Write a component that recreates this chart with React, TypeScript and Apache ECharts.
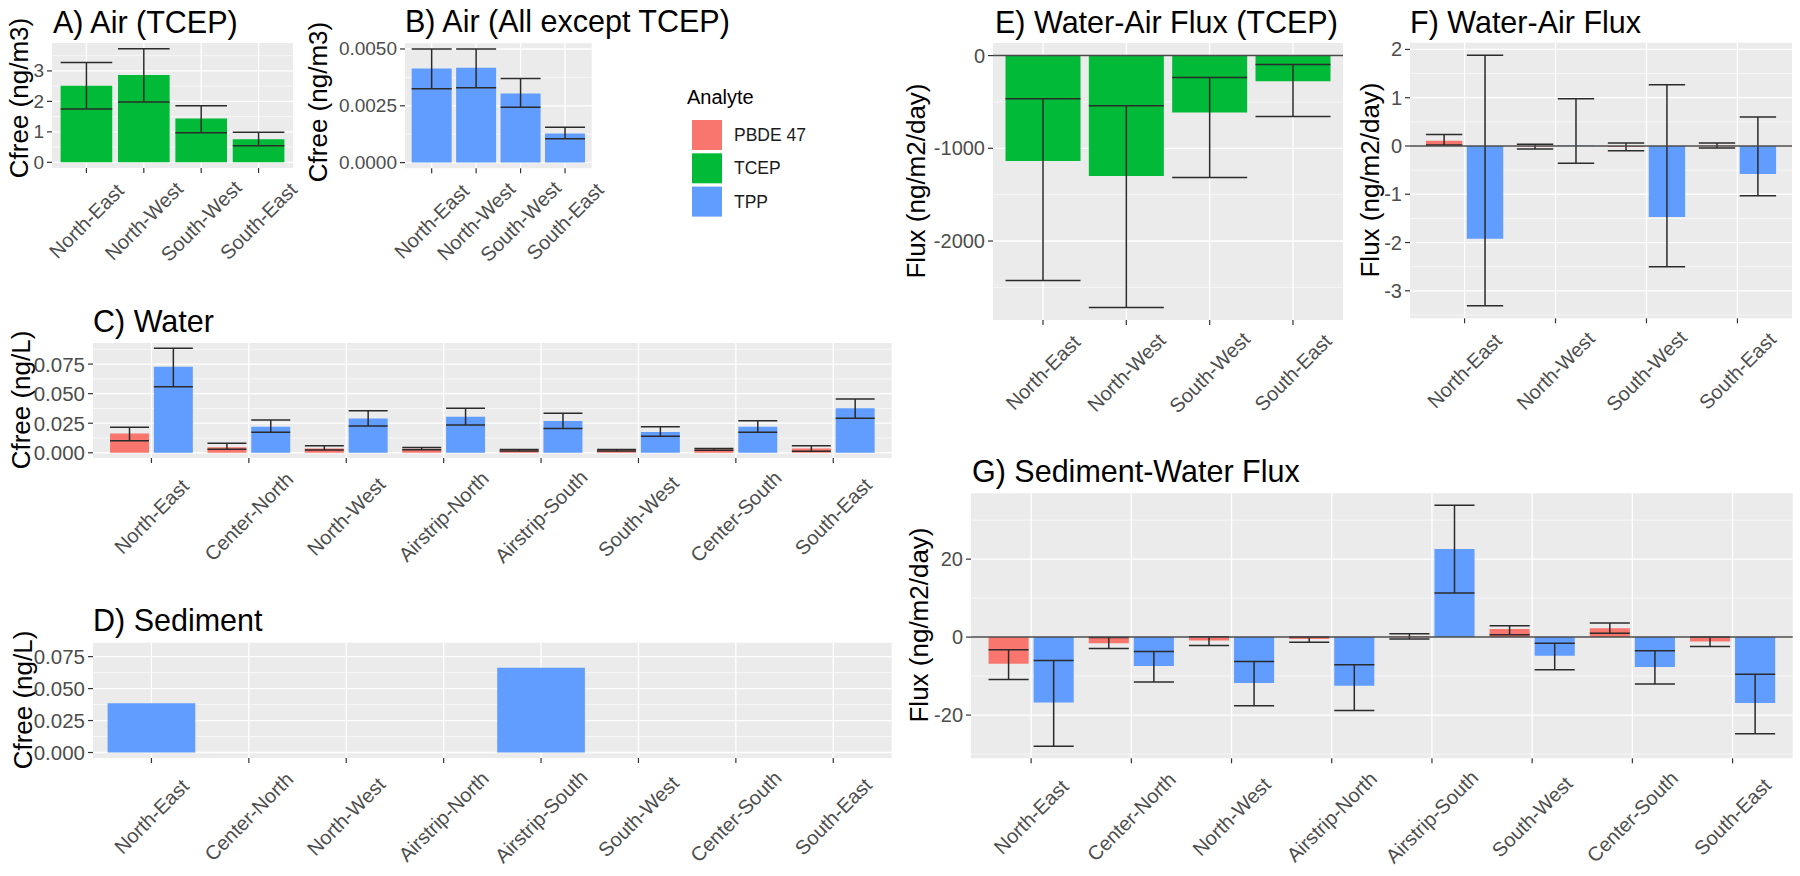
import React, { useEffect, useRef } from 'react';
import * as echarts from 'echarts';

const FONT = '"Liberation Sans", Arial, Helvetica, sans-serif';
const RED = '#F8766D';
const GREEN = '#00BA38';
const BLUE = '#619CFF';

// ---------- categories ----------
const regions4 = ['North-East', 'North-West', 'South-West', 'South-East'];
const regions8 = ['North-East', 'Center-North', 'North-West', 'Airstrip-North', 'Airstrip-South', 'South-West', 'Center-South', 'South-East'];

// ---------- A) Air (TCEP) ----------
const airTcepValue = [2.51, 2.87, 1.44, 0.76];
const airTcepLower = [1.75, 1.98, 0.97, 0.54];
const airTcepUpper = [3.28, 3.73, 1.86, 0.99];
const ticksA = [0, 1, 2, 3];

// ---------- B) Air (All except TCEP) ----------
const airTppValue = [0.00414, 0.00417, 0.00304, 0.00128];
const airTppLower = [0.00325, 0.00329, 0.00244, 0.00105];
const airTppUpper = [0.0050, 0.0050, 0.0037, 0.00156];
const ticksB = [0, 0.0025, 0.005];

// ---------- C) Water ----------
const waterPbdeValue = [0.0164, 0.0046, 0.0037, 0.0035, 0.0022, 0.0022, 0.0029, 0.0037];
const waterPbdeLower = [0.0102, 0.0029, 0.0023, 0.0025, 0.0016, 0.0016, 0.0021, 0.0012];
const waterPbdeUpper = [0.0215, 0.0080, 0.0060, 0.0045, 0.0028, 0.0028, 0.0037, 0.0059];
const waterTppValue = [0.0728, 0.0220, 0.0290, 0.0305, 0.0268, 0.0175, 0.0220, 0.0376];
const waterTppLower = [0.0559, 0.0173, 0.0226, 0.0235, 0.0205, 0.0139, 0.0173, 0.0291];
const waterTppUpper = [0.0884, 0.0277, 0.0356, 0.0376, 0.0335, 0.0220, 0.0271, 0.0455];
const ticksC = [0, 0.025, 0.05, 0.075];

// ---------- D) Sediment ----------
const sedTppValue = [0.0386, null, null, null, 0.0664, null, null, null];
const ticksD = [0, 0.025, 0.05, 0.075];

// ---------- E) Water-Air Flux (TCEP) ----------
const waFluxTcepValue = [-1138, -1300, -614, -278];
const waFluxTcepLower = [-2427, -2716, -1314, -657];
const waFluxTcepUpper = [-466, -542, -235, -97];
const ticksE = [-2000, -1000, 0];

// ---------- F) Water-Air Flux ----------
const waFluxPbdeValue = [0.11, -0.01, -0.02, 0.01];
const waFluxPbdeLower = [0.02, -0.06, -0.10, -0.04];
const waFluxPbdeUpper = [0.24, 0.035, 0.06, 0.06];
const waFluxTppValue = [-1.92, 0.01, -1.47, -0.58];
const waFluxTppLower = [-3.31, -0.36, -2.50, -1.03];
const waFluxTppUpper = [1.88, 0.98, 1.27, 0.60];
const ticksF = [-3, -2, -1, 0, 1, 2];

// ---------- G) Sediment-Water Flux ----------
const swFluxPbdeValue = [-6.85, -1.55, -0.85, -0.5, 0.2, 2.05, 2.3, -1.1];
const swFluxPbdeLower = [-10.9, -2.9, -2.15, -1.3, -0.5, 0.6, 1.0, -2.4];
const swFluxPbdeUpper = [-3.26, -0.1, 0.1, 0.0, 0.85, 2.9, 3.6, 0.0];
const swFluxTppValue = [-16.8, -7.4, -11.8, -12.5, 22.6, -4.8, -7.7, -16.9];
const swFluxTppLower = [-28.0, -11.5, -17.6, -18.8, 11.3, -8.4, -12.0, -24.8];
const swFluxTppUpper = [-6.0, -3.7, -6.25, -7.1, 33.8, -1.55, -3.5, -9.5];
const ticksG = [-20, 0, 20];

const analytes = ['PBDE 47', 'TCEP', 'TPP'];

type S = {
  name: string; color: string; values: (number | null)[];
  lower?: number[]; upper?: number[]; offset: number; width: number;
};
type Panel = {
  title: string; yTitle: string; cats: string[];
  ymin: number; ymax: number; ticks: number[]; fmt: (v: number) => string;
  box: { left: number; top: number; width: number; height: number };
  titlePos: [number, number]; yTitlePos: [number, number];
  labelMargin: number; tickFont: number; zero: boolean; series: S[];
};

const single = (name: string, color: string, values: (number | null)[], lower?: number[], upper?: number[]): S =>
  ({ name, color, values, lower, upper, offset: 0, width: 0.9 });
const dodge = (name: string, color: string, values: number[], lower: number[], upper: number[], side: number): S =>
  ({ name, color, values, lower, upper, offset: 0.225 * side, width: 0.4 });

const panels: Panel[] = [
  {
    title: 'A) Air (TCEP)', yTitle: 'Cfree (ng/m3)', cats: regions4,
    ymin: -0.1865, ymax: 3.9165, ticks: ticksA, fmt: (v) => String(v),
    box: { left: 52, top: 43, width: 241, height: 125 },
    titlePos: [53, 22], yTitlePos: [19, 98], labelMargin: 53, tickFont: 19, zero: false,
    series: [single('TCEP', GREEN, airTcepValue, airTcepLower, airTcepUpper)],
  },
  {
    title: 'B) Air (All except TCEP)', yTitle: 'Cfree (ng/m3)', cats: regions4,
    ymin: -0.00025, ymax: 0.00525, ticks: ticksB, fmt: (v) => v.toFixed(4),
    box: { left: 405, top: 43.3, width: 186.7, height: 125 },
    titlePos: [405, 21], yTitlePos: [318, 102], labelMargin: 53, tickFont: 19, zero: false,
    series: [single('TPP', BLUE, airTppValue, airTppLower, airTppUpper)],
  },
  {
    title: 'C) Water', yTitle: 'Cfree (ng/L)', cats: regions8,
    ymin: -0.00442, ymax: 0.09282, ticks: ticksC, fmt: (v) => v.toFixed(3),
    box: { left: 93, top: 343, width: 798.7, height: 115 },
    titlePos: [93, 321], yTitlePos: [21, 400], labelMargin: 58.5, tickFont: 20.5, zero: false,
    series: [
      dodge('PBDE 47', RED, waterPbdeValue, waterPbdeLower, waterPbdeUpper, -1),
      dodge('TPP', BLUE, waterTppValue, waterTppLower, waterTppUpper, 1),
    ],
  },
  {
    title: 'D) Sediment', yTitle: 'Cfree (ng/L)', cats: regions8,
    ymin: -0.0043, ymax: 0.0859, ticks: ticksD, fmt: (v) => v.toFixed(3),
    box: { left: 93, top: 642.7, width: 798.7, height: 115.3 },
    titlePos: [93, 620], yTitlePos: [23, 700], labelMargin: 58.5, tickFont: 20.5, zero: false,
    series: [single('TPP', BLUE, sedTppValue)],
  },
  {
    title: 'E) Water-Air Flux (TCEP)', yTitle: 'Flux (ng/m2/day)', cats: regions4,
    ymin: -2851.8, ymax: 135.8, ticks: ticksE, fmt: (v) => String(v),
    box: { left: 993, top: 43, width: 350, height: 277 },
    titlePos: [995, 22], yTitlePos: [916, 181], labelMargin: 52.5, tickFont: 20, zero: true,
    series: [single('TCEP', GREEN, waFluxTcepValue, waFluxTcepLower, waFluxTcepUpper)],
  },
  {
    title: 'F) Water-Air Flux', yTitle: 'Flux (ng/m2/day)', cats: regions4,
    ymin: -3.5695, ymax: 2.1395, ticks: ticksF, fmt: (v) => String(v),
    box: { left: 1410, top: 42.7, width: 382, height: 275.6 },
    titlePos: [1410, 22], yTitlePos: [1370, 180], labelMargin: 52.5, tickFont: 20, zero: true,
    series: [
      dodge('PBDE 47', RED, waFluxPbdeValue, waFluxPbdeLower, waFluxPbdeUpper, -1),
      dodge('TPP', BLUE, waFluxTppValue, waFluxTppLower, waFluxTppUpper, 1),
    ],
  },
  {
    title: 'G) Sediment-Water Flux', yTitle: 'Flux (ng/m2/day)', cats: regions8,
    ymin: -31.09, ymax: 36.89, ticks: ticksG, fmt: (v) => String(v),
    box: { left: 971, top: 493.3, width: 821.7, height: 265 },
    titlePos: [972, 471], yTitlePos: [919, 625], labelMargin: 58.5, tickFont: 20, zero: true,
    series: [
      dodge('PBDE 47', RED, swFluxPbdeValue, swFluxPbdeLower, swFluxPbdeUpper, -1),
      dodge('TPP', BLUE, swFluxTppValue, swFluxTppLower, swFluxTppUpper, 1),
    ],
  },
];

function minorBreaks(ticks: number[], min: number, max: number): number[] {
  const step = ticks[1] - ticks[0];
  const out: number[] = [];
  for (let k = -1; k < ticks.length; k++) {
    const m = ticks[0] + step * (k + 0.5);
    if (m > min && m < max) out.push(m);
  }
  return out;
}

const TICK_LEN = 5;
const TICK_STYLE = { stroke: '#333333', lineWidth: 1.2 };

function buildOption() {
  const grid: any[] = [];
  const xAxis: any[] = [];
  const yAxis: any[] = [];
  const series: any[] = [];
  const graphic: any[] = [];

  panels.forEach((p, k) => {
    const n = p.cats.length;
    const idx = p.cats.map((_, i) => i);
    grid.push({
      left: p.box.left, top: p.box.top, width: p.box.width, height: p.box.height,
      show: true, backgroundColor: '#EBEBEB', borderWidth: 0, borderColor: 'transparent',
    });
    xAxis.push({
      type: 'value', gridIndex: k, min: -0.6, max: n - 0.4,
      axisLine: { show: false },
      axisTick: { show: false },
      axisLabel: {
        show: true, customValues: idx, formatter: (v: number) => p.cats[Math.round(v)] ?? '',
        rotate: 45, align: 'center', verticalAlign: 'middle', margin: p.labelMargin,
        color: '#4D4D4D', fontSize: 20, fontFamily: FONT,
      },
      splitLine: { show: false }, minorTick: { show: false }, minorSplitLine: { show: false },
    });
    yAxis.push({
      type: 'value', gridIndex: k, min: p.ymin, max: p.ymax,
      axisLine: { show: false },
      axisTick: { show: false },
      axisLabel: {
        show: true, customValues: p.ticks, formatter: (v: number) => p.fmt(v),
        margin: 8, color: '#4D4D4D', fontSize: p.tickFont, fontFamily: FONT,
      },
      splitLine: { show: false }, minorTick: { show: false }, minorSplitLine: { show: false },
    });

    // ggplot-style panel furniture: white major/minor grid lines and outward tick marks
    // kind 0 = major y line, 1 = minor y line, 2 = x line at category, 3 = y tick mark, 4 = x tick mark
    const lines: number[][] = [];
    p.ticks.forEach((t) => lines.push([0, t]));
    minorBreaks(p.ticks, p.ymin, p.ymax).forEach((m) => lines.push([1, m]));
    idx.forEach((i) => lines.push([2, i]));
    p.ticks.forEach((t) => lines.push([3, t]));
    idx.forEach((i) => lines.push([4, i]));
    series.push({
      type: 'custom', xAxisIndex: k, yAxisIndex: k, z: 1, silent: true, clip: false,
      encode: { x: 0, y: 1 }, data: lines,
      renderItem: (params: any, api: any) => {
        const cs = params.coordSys;
        const kind = api.value(0);
        const v = api.value(1);
        if (kind === 2 || kind === 4) {
          const x = api.coord([v, p.ymin])[0];
          if (kind === 2) {
            return { type: 'line', shape: { x1: x, y1: cs.y, x2: x, y2: cs.y + cs.height }, style: { stroke: '#FFFFFF', lineWidth: 1.3 } };
          }
          const yb = cs.y + cs.height;
          return { type: 'line', shape: { x1: x, y1: yb, x2: x, y2: yb + TICK_LEN }, style: TICK_STYLE };
        }
        const y = api.coord([-0.6, v])[1];
        if (kind === 3) {
          return { type: 'line', shape: { x1: cs.x - TICK_LEN, y1: y, x2: cs.x, y2: y }, style: TICK_STYLE };
        }
        return { type: 'line', shape: { x1: cs.x, y1: y, x2: cs.x + cs.width, y2: y }, style: { stroke: '#FFFFFF', lineWidth: kind === 0 ? 1.3 : 0.6 } };
      },
    });

    // bars with error bars
    p.series.forEach((s) => {
      const data: any[] = [];
      s.values.forEach((v, i) => {
        if (v === null || v === undefined) return;
        data.push([i, v, s.lower ? s.lower[i] : null, s.upper ? s.upper[i] : null]);
      });
      series.push({
        type: 'custom', name: s.name, xAxisIndex: k, yAxisIndex: k, z: 2,
        itemStyle: { color: s.color }, data,
        renderItem: (_params: any, api: any) => {
          const i = api.value(0);
          const v = api.value(1);
          const band = api.size([1, 0])[0];
          const cx = api.coord([i + s.offset, 0])[0];
          const y0 = api.coord([i, 0])[1];
          const y1 = api.coord([i, v])[1];
          const hw = (band * s.width) / 2;
          const children: any[] = [
            { type: 'rect', shape: { x: cx - hw, y: Math.min(y0, y1), width: hw * 2, height: Math.abs(y1 - y0) }, style: { fill: s.color } },
          ];
          const lo = api.value(2);
          const hi = api.value(3);
          if (typeof lo === 'number' && typeof hi === 'number' && !isNaN(lo) && !isNaN(hi)) {
            const yl = api.coord([i, lo])[1];
            const yh = api.coord([i, hi])[1];
            const st = { stroke: '#2B2B2B', lineWidth: 1.5 };
            children.push({ type: 'line', shape: { x1: cx, y1: yl, x2: cx, y2: yh }, style: st });
            children.push({ type: 'line', shape: { x1: cx - hw, y1: yl, x2: cx + hw, y2: yl }, style: st });
            children.push({ type: 'line', shape: { x1: cx - hw, y1: yh, x2: cx + hw, y2: yh }, style: st });
          }
          return { type: 'group', children };
        },
      });
    });

    if (p.zero) {
      series.push({
        type: 'custom', xAxisIndex: k, yAxisIndex: k, z: 5, silent: true, data: [[0, 0]],
        renderItem: (params: any, api: any) => {
          const cs = params.coordSys;
          const y = api.coord([0, 0])[1];
          return { type: 'line', shape: { x1: cs.x, y1: y, x2: cs.x + cs.width, y2: y }, style: { stroke: '#4A4A4A', lineWidth: 1.5 } };
        },
      });
    }

    graphic.push({
      type: 'text', x: p.titlePos[0], y: p.titlePos[1], silent: true,
      style: { text: p.title, fontSize: 30.5, fontFamily: FONT, fill: '#000000', align: 'left', verticalAlign: 'middle' },
    });
    graphic.push({
      type: 'text', x: p.yTitlePos[0], y: p.yTitlePos[1], rotation: Math.PI / 2, silent: true,
      style: { text: p.yTitle, fontSize: 26, fontFamily: FONT, fill: '#000000', align: 'center', verticalAlign: 'middle' },
    });
  });

  graphic.push({
    type: 'text', x: 687, y: 97, silent: true,
    style: { text: 'Analyte', fontSize: 20, fontFamily: FONT, fill: '#000000', align: 'left', verticalAlign: 'middle' },
  });

  return {
    animation: false,
    backgroundColor: '#FFFFFF',
    grid, xAxis, yAxis, series, graphic,
    legend: {
      data: analytes, left: 687, top: 115, orient: 'vertical', icon: 'rect',
      itemWidth: 30, itemHeight: 30, itemGap: 3.3, selectedMode: false,
      textStyle: { fontSize: 17.5, color: '#1A1A1A', fontFamily: FONT, padding: [0, 0, 0, 7] },
    },
  };
}

export default function App() {
  const ref = useRef<HTMLDivElement>(null);
  useEffect(() => {
    if (!ref.current) return;
    const chart = echarts.init(ref.current, undefined, { renderer: 'svg' });
    chart.setOption(buildOption() as any);
    return () => chart.dispose();
  }, []);
  return (
    <div
      ref={ref}
      style={{ position: 'absolute', left: 0, top: 0, width: 1800, height: 876, background: '#FFFFFF' }}
    />
  );
}
